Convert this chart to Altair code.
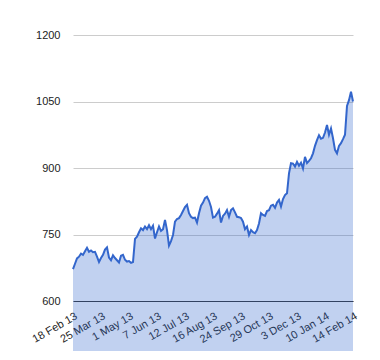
import altair as alt
import pandas as pd

prices = [
    672, 684, 696, 700, 707, 704, 712, 720, 711, 714, 710, 711, 700, 688, 697, 704,
    716, 721, 698, 692, 703, 697, 692, 687, 702, 704, 693, 689, 690, 686, 688, 740,
    745, 755, 764, 760, 768, 762, 771, 762, 770, 741, 755, 768, 758, 762, 783, 760,
    725, 735, 749, 779, 785, 787, 794, 803, 812, 817, 798, 790, 787, 788, 777, 798,
    815, 822, 832, 835, 826, 812, 788, 790, 797, 805, 777, 792, 797, 805, 790, 805,
    809, 800, 790, 789, 787, 779, 762, 768, 749, 760, 755, 753, 760, 775, 798, 794,
    792, 803, 805, 815, 817, 810, 822, 828, 813, 830, 839, 843, 888, 911, 910, 903,
    914, 905, 912, 899, 925, 911, 916, 922, 933, 950, 963, 974, 966, 968, 980, 997,
    975, 989, 967, 941, 933, 950, 956, 965, 975, 1040, 1053, 1072, 1050,
]
tick_labels = ["18 Feb 13", "25 Mar 13", "1 May 13", "7 Jun 13", "12 Jul 13",
               "16 Aug 13", "24 Sep 13", "29 Oct 13", "3 Dec 13", "10 Jan 14", "14 Feb 14"]
y_ticks = [600, 750, 900, 1050, 1200]

n = len(prices)
step = (n - 1) // (len(tick_labels) - 1)
tick_pos = [i * step for i in range(len(tick_labels))]
df = pd.DataFrame({"i": list(range(n)), "price": prices})

label_map = "{" + ",".join(f"'{p}':'{l}'" for p, l in zip(tick_pos, tick_labels)) + "}"

x = alt.X("i:Q", scale=alt.Scale(domain=[0, n - 1], nice=False, zero=False),
          axis=alt.Axis(values=tick_pos, labelExpr=f"{label_map}[datum.value]",
                        labelAngle=-30, labelAlign="right", labelBaseline="top",
                        labelPadding=9, ticks=False, grid=False, domainColor="#333333",
                        labelFont="Liberation Sans", labelFontSize=11, labelColor="#222222",
                        title=None, labelOverlap=False, labelBound=False, labelFlush=False))
y = alt.Y("price:Q", scale=alt.Scale(domain=[600, 1200], nice=False, zero=False),
          axis=alt.Axis(values=y_ticks, format="d", ticks=False, domain=False,
                        gridColor="#cccccc",
                        labelFont="Liberation Sans", labelFontSize=11, labelColor="#222222",
                        labelPadding=13, title=None))

area = alt.Chart(df).mark_area(color="#3366cc", opacity=0.3, strokeWidth=0).encode(x=x, y=y)
line = alt.Chart(df).mark_line(color="#3366cc", strokeWidth=2).encode(x=x, y=y)

chart = (area + line).properties(
    width=280, height=266,
    background="white",
    autosize=alt.AutoSizeParams(type="none"),
    padding={"left": 65, "top": 27, "right": 12, "bottom": 50},
).configure_view(stroke="transparent", strokeWidth=0)

chart.save("out.html", embed_options={"renderer": "svg", "actions": False})
